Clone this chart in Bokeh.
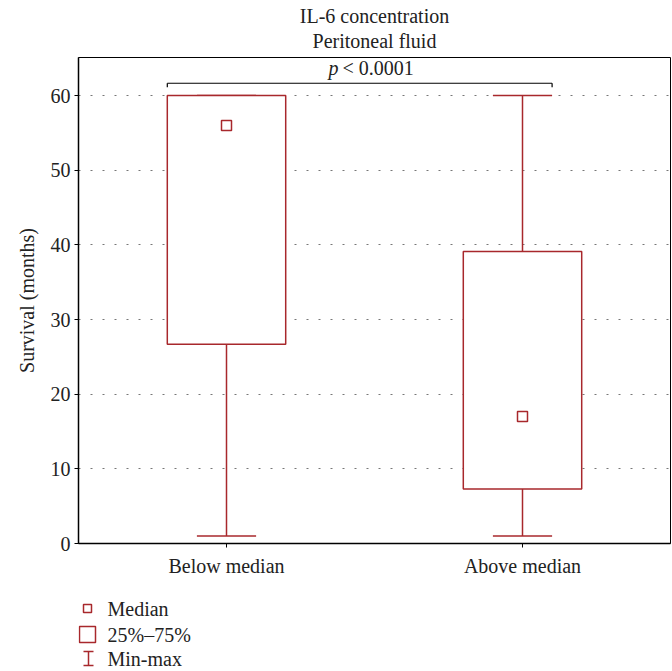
from bokeh.plotting import figure
from bokeh.layouts import column
from bokeh.models import Range1d, FixedTicker, Label, ColumnDataSource
from bokeh.core.properties import value
from bokeh.embed import file_html
from bokeh.resources import INLINE

categories = ["Below median", "Above median"]
positions = [1, 2]
q1 = [26.7, 7.3]
q3 = [60.0, 39.1]
medians = [56.0, 17.0]
mins = [1.0, 1.0]
maxs = [60.0, 60.0]
y_ticks = [0, 10, 20, 30, 40, 50, 60]
legend_labels = ["Median", "25%\u201375%", "Min-max"]
title_lines = ["IL-6 concentration", "Peritoneal fluid"]
p_text = "< 0.0001"

RED = "#A8282C"
FONT = "Liberation Serif"
FS = "20px"
TXT = "#222222"

# ---- title strip ----
tp = figure(width=672, height=56, x_range=Range1d(78, 670), y_range=Range1d(56, 0),
            output_backend="svg", toolbar_location=None, x_axis_type=None, y_axis_type=None,
            min_border_left=78, min_border_right=2, min_border_top=0, min_border_bottom=0)
tp.outline_line_color = None
tp.grid.visible = False
tp.text(x=[374, 374], y=[15, 40], text=title_lines, text_font=value(FONT),
        text_font_size=FS, text_align="center", text_baseline="middle", text_color=TXT)

# ---- main plot ----
p = figure(width=672, height=534, x_range=Range1d(0.5, 2.5), y_range=Range1d(0, 65.1),
           output_backend="svg", toolbar_location=None,
           min_border_left=78, min_border_right=2, min_border_top=1, min_border_bottom=47)
p.outline_line_color = "black"
p.outline_line_width = 1
p.xgrid.visible = False
p.ygrid.ticker = FixedTicker(ticks=y_ticks)
p.ygrid.grid_line_color = "#777777"
p.ygrid.grid_line_dash = "2 10"
p.ygrid.grid_line_width = 1

p.xaxis.ticker = FixedTicker(ticks=positions)
p.xaxis.major_label_overrides = {pos: c for pos, c in zip(positions, categories)}
p.yaxis.ticker = FixedTicker(ticks=y_ticks)
for ax in (p.xaxis, p.yaxis):
    ax.axis_line_color = "black"
    ax.axis_line_width = 1.5
    ax.major_tick_line_color = "black"
    ax.major_tick_out = 4
    ax.major_tick_in = 0
    ax.minor_tick_line_color = None
    ax.major_label_text_font = FONT
    ax.major_label_text_font_size = FS
    ax.major_label_text_color = TXT
p.xaxis.major_label_standoff = 7
p.yaxis.major_label_standoff = 4
p.yaxis.axis_label = "Survival (months)"
p.yaxis.axis_label_text_font = FONT
p.yaxis.axis_label_text_font_size = FS
p.yaxis.axis_label_text_font_style = "normal"
p.yaxis.axis_label_text_color = TXT
p.yaxis.axis_label_standoff = 10

src = ColumnDataSource(dict(x=positions, q1=q1, q3=q3, med=medians, lo=mins, hi=maxs,
                            xl=[x - 0.1 for x in positions], xr=[x + 0.1 for x in positions]))
# whiskers
p.segment(x0="x", y0="q3", x1="x", y1="hi", source=src, line_color=RED, line_width=1.5)
p.segment(x0="x", y0="q1", x1="x", y1="lo", source=src, line_color=RED, line_width=1.5)
p.segment(x0="xl", y0="hi", x1="xr", y1="hi", source=src, line_color=RED, line_width=1.5)
p.segment(x0="xl", y0="lo", x1="xr", y1="lo", source=src, line_color=RED, line_width=1.5)
# boxes
p.vbar(x="x", width=0.4, bottom="q1", top="q3", source=src, fill_color="white",
       line_color=RED, line_width=1.5)
# medians
p.scatter(x="x", y="med", source=src, marker="square", size=10, fill_color="white",
          line_color=RED, line_width=1.5)

# significance bracket
bx0 = positions[0] - 0.2
bx1 = positions[1] + 0.1
by = 61.65
p.segment(x0=[bx0, bx0, bx1], y0=[by, by, by], x1=[bx1, bx0, bx1], y1=[by, by - 0.55, by - 0.55],
          line_color="black", line_width=1.2)
p.add_layout(Label(x=1.382, y=63.75, text="p", text_font=FONT, text_font_size=FS,
                   text_font_style="italic", text_align="right", text_baseline="middle",
                   x_offset=-1, text_color=TXT))
p.add_layout(Label(x=1.382, y=63.75, text=p_text, text_font=FONT, text_font_size=FS,
                   text_align="left", text_baseline="middle", x_offset=3, text_color=TXT))

# ---- legend strip ----
lg = figure(width=672, height=81, x_range=Range1d(78, 670), y_range=Range1d(81, 0),
            output_backend="svg", toolbar_location=None, x_axis_type=None, y_axis_type=None,
            min_border_left=78, min_border_right=2, min_border_top=0, min_border_bottom=0)
lg.outline_line_color = None
lg.grid.visible = False
ys = [18, 44, 68]
lg.scatter(x=[87], y=[ys[0]], marker="square", size=8, fill_color="white",
           line_color=RED, line_width=1.5)
lg.rect(x=[87], y=[ys[1]], width=16, height=16, fill_color="white",
        line_color=RED, line_width=1.5)
lg.segment(x0=[88, 83, 83], y0=[ys[2] - 7, ys[2] - 7, ys[2] + 7],
           x1=[88, 93, 93], y1=[ys[2] + 7, ys[2] - 7, ys[2] + 7],
           line_color=RED, line_width=1.5)
lg.text(x=[107, 107, 107], y=ys, text=legend_labels, text_font=value(FONT),
        text_font_size=FS, text_baseline="middle", text_color=TXT)

layout = column(tp, p, lg, spacing=0)
open("out.html", "w").write(file_html(layout, INLINE))
